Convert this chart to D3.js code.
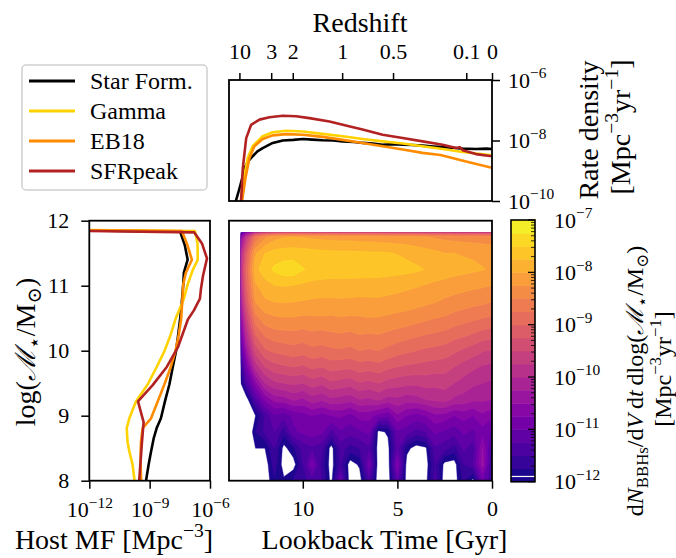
<!DOCTYPE html>
<html>
<head>
<meta charset="utf-8">
<script src="https://cdn.jsdelivr.net/npm/d3@7"></script>
<style>
  body { margin: 0; background: #fff; }
  svg { font-family: "Liberation Serif", "DejaVu Serif", serif; }
</style>
</head>
<body>
<svg id="chart" width="676" height="558"></svg>
<script>
// ---- data ----
const seriesNames = ['Star Form.', 'Gamma', 'EB18', 'SFRpeak'];
const seriesColors = ['#000000', '#ffd200', '#ff8c00', '#b22222'];

// top panel: [lookback time Gyr, log10 rate density]
const rateStarForm = [[13.7,-10.6],[13.52,-9.96],[13.34,-9.57],[13.2,-9.24],[13.08,-8.91],[12.9,-8.7],[12.65,-8.52],[12.4,-8.36],[12.12,-8.25],[11.59,-8.08],[11.06,-8.0],[10.5,-7.98],[10.0,-7.95],[9.5,-7.97],[8.95,-7.99],[8.4,-8.0],[7.89,-8.03],[7.3,-8.05],[6.84,-8.08],[6.3,-8.1],[5.78,-8.14],[5.2,-8.12],[4.72,-8.14],[4.2,-8.15],[3.67,-8.17],[3.1,-8.2],[2.61,-8.22],[2.1,-8.24],[1.55,-8.27],[0.85,-8.28],[0.3,-8.27],[0.0,-8.28]];
const rateGamma = [[13.45,-10.6],[13.26,-9.96],[13.08,-9.13],[12.91,-8.58],[12.65,-8.19],[12.12,-7.86],[11.59,-7.73],[10.88,-7.68],[10.0,-7.70],[8.95,-7.78],[7.89,-7.86],[6.84,-7.95],[5.78,-8.03],[4.72,-8.10],[3.67,-8.19],[2.61,-8.28],[1.55,-8.38],[0.0,-8.49]];
const rateEB18 = [[13.4,-10.6],[13.2,-9.96],[13.03,-9.24],[12.82,-8.58],[12.56,-8.19],[12.12,-7.95],[11.59,-7.83],[10.88,-7.79],[10.0,-7.81],[8.95,-7.88],[7.89,-7.98],[6.84,-8.08],[5.78,-8.19],[4.72,-8.30],[3.67,-8.41],[2.72,-8.48],[1.32,-8.70],[0.0,-8.9]];
const rateSFRpeak = [[13.4,-10.6],[13.26,-9.96],[13.17,-8.91],[12.99,-7.92],[12.73,-7.48],[12.29,-7.31],[11.76,-7.23],[11.06,-7.18],[10.35,-7.20],[9.65,-7.26],[8.59,-7.37],[7.89,-7.48],[6.84,-7.64],[5.78,-7.81],[4.72,-7.92],[3.67,-8.03],[2.61,-8.14],[1.9,-8.25],[1.7,-8.22],[1.55,-8.32],[0.85,-8.45],[0.0,-8.52]];

// left panel: [log10 host MF, log mass]
const mfStarForm = [[-14,11.86],[-7.48,11.83],[-7.25,11.62],[-7.11,11.40],[-7.3,11.2],[-7.33,11.02],[-7.4,10.75],[-7.48,10.5],[-7.58,10.25],[-7.69,9.99],[-7.85,9.75],[-8.02,9.48],[-8.24,9.22],[-8.44,8.96],[-8.65,8.81],[-8.8,8.65],[-8.93,8.45],[-9.05,8.25],[-9.18,8.0]];
const mfGamma = [[-14,11.86],[-6.75,11.84],[-6.62,11.65],[-6.61,11.40],[-6.86,11.24],[-7.11,11.02],[-7.3,10.8],[-7.7,10.5],[-7.95,10.25],[-8.27,9.99],[-8.65,9.75],[-9.1,9.48],[-9.68,9.22],[-10.01,8.96],[-10.14,8.81],[-10.1,8.6],[-10.01,8.45],[-9.85,8.25],[-9.75,8.0]];
const mfEB18 = [[-14,11.86],[-7.4,11.84],[-7.15,11.65],[-6.9,11.40],[-7.2,11.2],[-7.33,11.02],[-7.38,10.75],[-7.43,10.5],[-7.55,10.25],[-7.72,9.99],[-7.95,9.75],[-8.27,9.48],[-8.6,9.22],[-8.93,8.96],[-9.35,8.81],[-9.43,8.6],[-9.45,8.45],[-9.45,8.25],[-9.42,8.0]];
const mfSFRpeak = [[-14,11.85],[-6.78,11.82],[-6.4,11.65],[-6.15,11.42],[-6.35,11.15],[-6.45,10.95],[-6.5,10.8],[-6.8,10.62],[-7.1,10.48],[-7.6,10.05],[-8.15,9.75],[-8.85,9.47],[-9.58,9.22],[-9.3,8.9],[-9.38,8.6],[-9.45,8.3],[-9.52,8.0]];

// main panel grid: log10 dN/dVdtdlogM, rows = log mass (top to bottom), cols = lookback time
const gridTime = [13.5,13,12.5,12,11.5,11,10.5,10,9.5,9,8.5,8,7.5,7,6.5,6,5.5,5,4.5,4,3.5,3,2.5,2,1.5,1,0.5,0];
const gridMass = [12,11.75,11.5,11.25,11,10.75,10.5,10.25,10,9.75,9.5,9.25,9,8.75,8.5,8.25,8];
const gridLogRate = [
  [-12.5,-12.5,-12.5,-12.5,-12.5,-12.5,-12.5,-12.5,-12.5,-12.5,-12.5,-12.5,-12.5,-12.5,-12.5,-12.5,-12.5,-12.5,-12.5,-12.5,-12.5,-12.5,-12.5,-12.5,-12.5,-12.5,-12.5,-12.5],
  [-11.3,-9.8,-8.7,-8.3,-8.1,-8.02,-8.0,-8.02,-8.05,-8.07,-8.08,-8.1,-8.1,-8.12,-8.13,-8.15,-8.17,-8.18,-8.2,-8.22,-8.25,-8.28,-8.32,-8.34,-8.36,-8.38,-8.4,-8.42],
  [-10.8,-9.2,-8.05,-7.75,-7.66,-7.63,-7.62,-7.64,-7.66,-7.68,-7.69,-7.7,-7.7,-7.71,-7.72,-7.72,-7.74,-7.76,-7.8,-7.85,-7.9,-7.95,-8.0,-8.0,-8.02,-8.03,-8.05,-8.08],
  [-10.7,-9.0,-7.82,-7.62,-7.45,-7.36,-7.35,-7.48,-7.56,-7.58,-7.6,-7.6,-7.61,-7.61,-7.62,-7.62,-7.64,-7.66,-7.68,-7.71,-7.76,-7.82,-7.86,-7.9,-7.93,-7.96,-7.99,-8.03],
  [-10.8,-9.1,-8.05,-7.85,-7.76,-7.74,-7.76,-7.8,-7.84,-7.86,-7.87,-7.87,-7.87,-7.88,-7.88,-7.88,-7.9,-7.92,-7.95,-7.98,-8.02,-8.07,-8.1,-8.14,-8.17,-8.2,-8.22,-8.26],
  [-11.0,-9.3,-8.25,-8.05,-8.0,-7.99,-8.0,-8.02,-8.04,-8.05,-8.05,-8.04,-8.05,-8.06,-8.05,-8.05,-8.07,-8.1,-8.13,-8.16,-8.2,-8.24,-8.3,-8.34,-8.38,-8.42,-8.45,-8.5],
  [-11.35,-9.65,-8.6,-8.35,-8.29,-8.27,-8.27,-8.3,-8.29,-8.28,-8.3,-8.27,-8.29,-8.28,-8.26,-8.27,-8.3,-8.33,-8.35,-8.4,-8.45,-8.5,-8.53,-8.6,-8.65,-8.7,-8.75,-8.79],
  [-11.7,-10.0,-9.0,-8.7,-8.6,-8.58,-8.57,-8.6,-8.55,-8.58,-8.54,-8.52,-8.55,-8.5,-8.52,-8.5,-8.55,-8.6,-8.65,-8.7,-8.75,-8.78,-8.82,-8.9,-8.95,-9.02,-9.1,-9.15],
  [-12.1,-10.4,-9.4,-9.05,-8.95,-8.9,-8.85,-8.9,-8.82,-8.85,-8.8,-8.78,-8.82,-8.75,-8.78,-8.75,-8.82,-8.9,-8.95,-9.0,-9.05,-9.08,-9.12,-9.2,-9.3,-9.38,-9.48,-9.52],
  [-12.5,-10.9,-9.9,-9.5,-9.35,-9.3,-9.25,-9.3,-9.2,-9.25,-9.15,-9.18,-9.2,-9.12,-9.15,-9.1,-9.2,-9.25,-9.3,-9.32,-9.35,-9.38,-9.4,-9.5,-9.6,-9.7,-9.78,-9.82],
  [-12.5,-11.4,-10.6,-10.0,-9.8,-9.75,-9.7,-9.75,-9.62,-9.7,-9.55,-9.6,-9.65,-9.52,-9.58,-9.5,-9.6,-9.65,-9.68,-9.7,-9.65,-9.68,-9.65,-9.75,-9.85,-9.95,-10.0,-10.05],
  [-12.5,-12.2,-11.3,-10.7,-10.4,-10.35,-10.2,-10.3,-10.1,-10.2,-10.05,-10.1,-10.15,-10.0,-10.05,-9.95,-10.1,-10.05,-10.15,-10.1,-10.0,-9.95,-9.9,-10.05,-10.1,-10.2,-10.2,-10.25],
  [-12.5,-12.5,-12.0,-11.45,-11.05,-11.15,-10.95,-10.85,-10.75,-10.85,-10.75,-10.7,-10.85,-10.65,-10.65,-10.85,-10.95,-10.55,-10.75,-10.85,-10.75,-10.55,-10.6,-10.75,-10.65,-10.75,-10.55,-10.7],
  [-12.5,-12.5,-11.75,-11.45,-11.25,-11.65,-11.05,-10.95,-10.85,-10.95,-11.35,-11.05,-11.15,-11.05,-10.95,-12.1,-11.95,-11.05,-11.15,-11.35,-11.25,-10.95,-11.05,-11.15,-10.95,-11.05,-10.85,-11.05],
  [-12.5,-12.5,-12.0,-12.0,-11.5,-12.1,-11.8,-11.4,-11.3,-11.4,-12.15,-11.4,-11.6,-11.5,-11.3,-12.15,-12.1,-11.2,-11.9,-12.15,-12.05,-11.3,-11.4,-11.6,-11.2,-11.4,-10.5,-11.4],
  [-12.5,-12.5,-12.2,-12.2,-11.6,-12.15,-12.15,-11.5,-10.8,-11.6,-12.15,-11.5,-12.15,-11.95,-10.9,-12.2,-12.2,-10.7,-12.15,-12.2,-12.15,-11.5,-12.1,-12.15,-11.5,-11.3,-10.4,-11.6],
  [-12.5,-12.5,-12.2,-12.2,-11.8,-11.95,-11.7,-11.6,-11.4,-11.5,-12.1,-11.0,-12.2,-12.15,-11.4,-12.2,-12.2,-11.2,-12.15,-12.2,-12.1,-11.4,-12.2,-12.15,-11.7,-12.1,-11.0,-11.5]
];
const dataTimeMax = 13.28;   // earliest lookback time with data
const dataMassMax = 11.82;   // top mass bin edge
const contourLevels = d3.range(-12, -7, 0.25);

// redshift ticks and their lookback times
const zTickLabels = ['10', '3', '2', '1', '0.5', '0.1', '0'];
const zTickLookback = [13.35, 11.67, 10.53, 7.92, 5.23, 1.36, 0];

// ---- layout ----
const svg = d3.select('#chart');
const mainP = {left: 229, right: 492, top: 220.7, bottom: 480.7};
const topP = {left: 229, right: 492, top: 80, bottom: 201};
const sideP = {left: 89.3, right: 210, top: 220.7, bottom: 480.7};
const cbP = {left: 511, right: 535, top: 220, bottom: 481.7};
const tickFont = 22, labelFont = 28;

const xT = d3.scaleLinear().domain([13.9, 0]).range([mainP.left, mainP.right]);
const yRate = d3.scaleLog().domain([1e-10, 1e-6]).range([topP.bottom, topP.top]);
const yMass = d3.scaleLinear().domain([8, 12]).range([mainP.bottom, mainP.top]);
const xMF = d3.scaleLog().domain([1e-12, 1e-6]).range([sideP.left, sideP.right]);
const yCb = d3.scaleLog().domain([1e-12, 1e-7]).range([cbP.bottom, cbP.top]);

const bandColor = lv => d3.interpolatePlasma((lv + 0.125 + 12) / 5);

// text with super/subscripts; base = initial vertical offset in px
function richText(el, parts, size, base) {
  let shift = -(base || 0);
  parts.forEach(([str, kind]) => {
    const target = kind === 'sup' ? -0.42 * size : kind === 'sub' ? 0.22 * size : 0;
    el.append('tspan')
      .attr('dy', target - shift)
      .attr('font-size', (kind === 'sup' || kind === 'sub') ? 0.7 * size : size)
      .attr('font-style', kind === 'it' ? 'italic' : null)
      .text(str);
    shift = target;
  });
}
function pow10Label(d) {
  const el = d3.select(this);
  const e = Math.round(Math.log10(d));
  const base = parseFloat(el.attr('dy') || '0') * tickFont;
  el.text(null).attr('dy', null);
  richText(el, [['10', 'n'], ['\u2212' + Math.abs(e), 'sup']], tickFont, base);
}
function styleAxis(g) {
  g.select('.domain').remove();
  g.selectAll('.tick line').attr('stroke', '#000').attr('stroke-width', 1.5);
  g.selectAll('.tick text').attr('fill', '#000').attr('font-size', tickFont)
    .attr('font-family', '"Liberation Serif", "DejaVu Serif", serif');
}

const defs = svg.append('defs');
function addClip(id, x0, y0, x1, y1) {
  defs.append('clipPath').attr('id', id).append('rect')
    .attr('x', x0).attr('y', y0).attr('width', x1 - x0).attr('height', y1 - y0);
}
addClip('clipMain', xT(dataTimeMax), yMass(dataMassMax), mainP.right, mainP.bottom);
addClip('clipTop', topP.left, topP.top, topP.right, topP.bottom);
addClip('clipSide', sideP.left, sideP.top, sideP.right, sideP.bottom);

// ---- main contour panel ----
const nx = gridTime.length, ny = gridMass.length;
const dt = gridTime[0] - gridTime[1], dm = gridMass[0] - gridMass[1];
const flat = gridLogRate.flat();
const contours = d3.contours().size([nx, ny]).thresholds(contourLevels)(flat);
const gridProj = d3.geoTransform({
  point: function(x, y) {
    this.stream.point(xT(gridTime[0] - (x - 0.5) * dt), yMass(gridMass[0] - (y - 0.5) * dm));
  }
});
const gridPath = d3.geoPath(gridProj);
svg.append('g')
  .attr('clip-path', 'url(#clipMain)')
  .selectAll('path')
  .data(contours)
  .enter()
  .append('path')
  .attr('d', gridPath)
  .attr('fill', d => bandColor(d.value))
  .attr('stroke', d => d3.color(bandColor(d.value)).brighter(0.3))
  .attr('stroke-width', 0.4);

svg.append('rect')
  .attr('x', mainP.left).attr('y', mainP.top)
  .attr('width', mainP.right - mainP.left).attr('height', mainP.bottom - mainP.top)
  .attr('fill', 'none').attr('stroke', '#000').attr('stroke-width', 1.8);

svg.append('g')
  .attr('transform', `translate(0,${mainP.bottom})`)
  .call(d3.axisBottom(xT).tickValues([10, 5, 0]).tickSize(8).tickPadding(12).tickFormat(d3.format('d')))
  .call(styleAxis);

svg.append('text')
  .attr('x', (mainP.left + mainP.right) / 2 + 24).attr('y', 549)
  .attr('text-anchor', 'middle').attr('font-size', labelFont)
  .text('Lookback Time [Gyr]');

// ---- top panel ----
const rateSeries = [rateStarForm, rateGamma, rateEB18, rateSFRpeak];
const rateLine = d3.line().x(d => xT(d[0])).y(d => yRate(Math.pow(10, d[1])));
const topG = svg.append('g').attr('clip-path', 'url(#clipTop)');
rateSeries.forEach((s, i) => {
  topG.append('path')
    .attr('d', rateLine(s))
    .attr('fill', 'none')
    .attr('stroke', seriesColors[i])
    .attr('stroke-width', 2.6)
    .attr('stroke-linejoin', 'round');
});
svg.append('rect')
  .attr('x', topP.left).attr('y', topP.top)
  .attr('width', topP.right - topP.left).attr('height', topP.bottom - topP.top)
  .attr('fill', 'none').attr('stroke', '#000').attr('stroke-width', 1.8);

svg.append('g')
  .attr('transform', `translate(0,${topP.top})`)
  .call(d3.axisTop(xT).tickValues(zTickLookback).tickSize(7).tickPadding(14).tickFormat((d, i) => zTickLabels[i]))
  .call(styleAxis);

const rateAxis = svg.append('g')
  .attr('transform', `translate(${topP.right},0)`)
  .call(d3.axisRight(yRate).tickValues([1e-10, 1e-8, 1e-6]).tickSize(8).tickPadding(8))
  .call(styleAxis);
rateAxis.selectAll('.tick text').each(pow10Label);

svg.append('text')
  .attr('x', 360).attr('y', 32)
  .attr('text-anchor', 'middle').attr('font-size', labelFont)
  .text('Redshift');

svg.append('text')
  .attr('transform', 'translate(598,130) rotate(-90)')
  .attr('text-anchor', 'middle').attr('font-size', labelFont)
  .text('Rate density');
const rateLab2 = svg.append('text')
  .attr('transform', 'translate(630,127) rotate(-90)')
  .attr('text-anchor', 'middle');
richText(rateLab2, [['[Mpc', 'n'], ['\u22123', 'sup'], ['yr', 'n'], ['\u22121', 'sup'], [']', 'n']], labelFont);

// ---- left panel: host mass function ----
const mfSeries = [mfStarForm, mfGamma, mfEB18, mfSFRpeak];
const mfLine = d3.line().x(d => xMF(Math.pow(10, d[0]))).y(d => yMass(d[1]));
const sideG = svg.append('g').attr('clip-path', 'url(#clipSide)');
mfSeries.forEach((s, i) => {
  sideG.append('path')
    .attr('d', mfLine(s))
    .attr('fill', 'none')
    .attr('stroke', seriesColors[i])
    .attr('stroke-width', 2.6)
    .attr('stroke-linejoin', 'round');
});
svg.append('rect')
  .attr('x', sideP.left).attr('y', sideP.top)
  .attr('width', sideP.right - sideP.left).attr('height', sideP.bottom - sideP.top)
  .attr('fill', 'none').attr('stroke', '#000').attr('stroke-width', 1.8);

const mfAxis = svg.append('g')
  .attr('transform', `translate(0,${sideP.bottom})`)
  .call(d3.axisBottom(xMF).tickValues([1e-12, 1e-9, 1e-6]).tickSize(8).tickPadding(13))
  .call(styleAxis);
mfAxis.selectAll('.tick text').each(pow10Label);

svg.append('g')
  .attr('transform', `translate(${sideP.left},0)`)
  .call(d3.axisLeft(yMass).tickValues([8, 9, 10, 11, 12]).tickSize(8).tickPadding(12).tickFormat(d3.format('d')))
  .call(styleAxis);

const mfLab = svg.append('text')
  .attr('x', 114).attr('y', 549)
  .attr('text-anchor', 'middle');
richText(mfLab, [['Host MF [Mpc', 'n'], ['\u22123', 'sup'], [']', 'n']], labelFont);

const massLab = svg.append('text')
  .attr('transform', 'translate(35,352) rotate(-90)')
  .attr('text-anchor', 'middle');
richText(massLab, [['log(', 'n'], ['\u2133', 'it'], ['\u22c6', 'sub'], ['/M', 'n'], ['\u2299', 'sub'], [')', 'n']], labelFont);

// ---- colour bar ----
const cbG = svg.append('g');
cbG.selectAll('rect')
  .data(contourLevels)
  .enter()
  .append('rect')
  .attr('x', cbP.left)
  .attr('y', d => yCb(Math.pow(10, d + 0.25)))
  .attr('width', cbP.right - cbP.left)
  .attr('height', d => yCb(Math.pow(10, d)) - yCb(Math.pow(10, d + 0.25)) + 0.5)
  .attr('fill', d => bandColor(d));
cbG.append('line')
  .attr('x1', cbP.left).attr('x2', cbP.right)
  .attr('y1', yCb(Math.pow(10, -11.9))).attr('y2', yCb(Math.pow(10, -11.9)))
  .attr('stroke', '#fff').attr('stroke-width', 1.2);
const minorTicks = [];
for (let e = -12; e < -7; e++) for (let k = 2; k < 10; k++) minorTicks.push(k * Math.pow(10, e));
cbG.selectAll('line.minor')
  .data(minorTicks)
  .enter()
  .append('line')
  .attr('class', 'minor')
  .attr('x1', cbP.right - 4).attr('x2', cbP.right)
  .attr('y1', d => yCb(d)).attr('y2', d => yCb(d))
  .attr('stroke', '#000').attr('stroke-width', 0.8);
const majorTicks = [1e-12, 1e-11, 1e-10, 1e-9, 1e-8, 1e-7];
cbG.selectAll('line.major')
  .data(majorTicks)
  .enter()
  .append('line')
  .attr('class', 'major')
  .attr('x1', cbP.right - 7).attr('x2', cbP.right)
  .attr('y1', d => yCb(d)).attr('y2', d => yCb(d))
  .attr('stroke', '#000').attr('stroke-width', 1.2);
cbG.append('rect')
  .attr('x', cbP.left).attr('y', cbP.top)
  .attr('width', cbP.right - cbP.left).attr('height', cbP.bottom - cbP.top)
  .attr('fill', 'none').attr('stroke', '#000').attr('stroke-width', 1.6);

const cbAxis = svg.append('g')
  .attr('transform', `translate(${cbP.right},0)`)
  .call(d3.axisRight(yCb).tickValues(majorTicks).tickSize(0).tickPadding(19))
  .call(styleAxis);
cbAxis.selectAll('.tick text').each(pow10Label);

const cbLab1 = svg.append('text')
  .attr('transform', 'translate(643,381) rotate(-90)')
  .attr('text-anchor', 'middle');
richText(cbLab1, [['d', 'n'], ['N', 'it'], ['BBHs', 'sub'], ['/d', 'n'], ['V', 'it'], ['\u2009d', 'n'], ['t', 'it'], ['\u2009dlog(', 'n'], ['\u2133', 'it'], ['\u22c6', 'sub'], ['/M', 'n'], ['\u2299', 'sub'], [')', 'n']], 24);
const cbLab2 = svg.append('text')
  .attr('transform', 'translate(671,369) rotate(-90)')
  .attr('text-anchor', 'middle');
richText(cbLab2, [['[Mpc', 'n'], ['\u22123', 'sup'], ['yr', 'n'], ['\u22121', 'sup'], [']', 'n']], 24);

// ---- legend ----
const legend = svg.append('g');
legend.append('rect')
  .attr('x', 22).attr('y', 65).attr('width', 185).attr('height', 125).attr('rx', 4)
  .attr('fill', '#fff').attr('stroke', '#d0d0d0').attr('stroke-width', 1.5);
seriesNames.forEach((name, i) => {
  const y = 81 + i * 30;
  legend.append('line')
    .attr('x1', 29).attr('x2', 75).attr('y1', y).attr('y2', y)
    .attr('stroke', seriesColors[i]).attr('stroke-width', 3);
  legend.append('text')
    .attr('x', 90).attr('y', y + 8)
    .attr('font-size', 24)
    .text(name);
});
</script>
</body>
</html>
